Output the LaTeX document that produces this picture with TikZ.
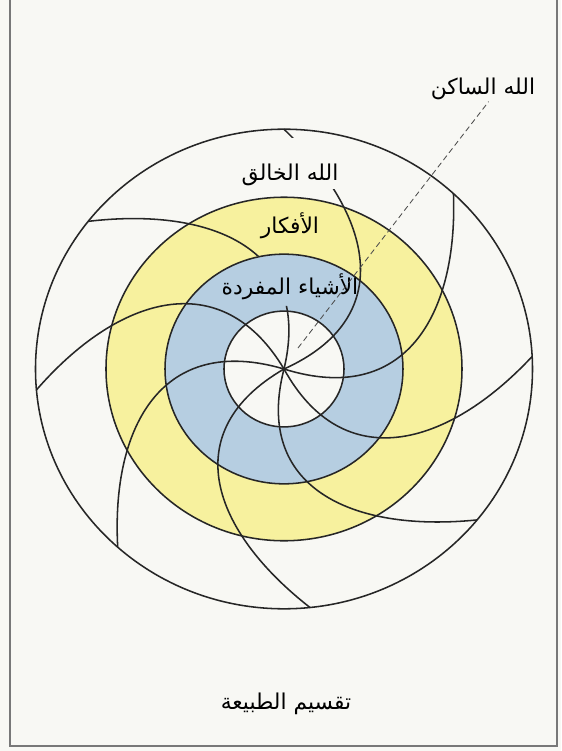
\documentclass[tikz,border=0pt]{standalone}
\usepackage{fontspec}
\newfontfamily\arabicfont[Script=Arabic]{DejaVu Sans}
\TeXXeTstate=1
\usepackage{tikz}
\usetikzlibrary{calc}
\definecolor{paper}{RGB}{248,248,244}
\definecolor{ideas}{RGB}{247,241,158}
\definecolor{things}{RGB}{182,206,225}
\definecolor{framegray}{RGB}{120,120,120}

\begin{document}
\begin{tikzpicture}[x=0.025cm,y=0.025cm,
  lbl/.style={font=\arabicfont\fontsize{15.5}{18}\selectfont,inner sep=1pt},
  ring/.style={draw=black!85,line width=1.1pt},
  arm/.style={draw=black!85,line width=1.1pt},
  pointer/.style={draw=black!70,line width=0.6pt,dash pattern=on 4pt off 2.5pt},
  frm/.style={draw=framegray,line width=0.8pt}]
  \useasboundingbox (-284,-382) rectangle (277,369);
  % page and frame
  \fill[paper] (-284,-382) rectangle (277,369);
  \draw[frm] (-274,369) -- (-274,-377) -- (273,-377) -- (273,369);
  % the four circles of nature
  \begin{scope}[yscale=0.965]
    \fill[ideas] (0,0) circle (178);
    \fill[things] (0,0) circle (119);
    \fill[paper] (0,0) circle (60);
    \foreach \r in {60,119,178,248.5} \draw[ring] (0,0) circle (\r);
    % spiral arms, cut where two labels sit
    \begin{scope}
      \clip (-300,-420) rectangle (300,420)
            (56,186.5) rectangle (-44,239.4)
            (21,65.3) rectangle (-34,117.1);
      \foreach \a in {90,47,3,-39,-84,-132,-175,142}
        \draw[arm] (0,0) to[out=\a-65,in=\a-135,looseness=1.3] (\a:248.5);
    \end{scope}
  \end{scope}
  % labels
  \node[lbl] (sakin) at (199,280) {\beginR الله الساكن\endR};
  \node[lbl] (khaliq) at (6,194) {\beginR الله الخالق\endR};
  \node[lbl] (afkar) at (6,143) {\beginR الأفكار\endR};
  \node[lbl] (mufrada) at (6,82) {\beginR الأشياء المفردة\endR};
  \node[lbl] (title) at (2,-335) {\beginR تقسيم الطبيعة\endR};
  \coordinate (rest) at (14,21);
  \draw[pointer] (rest) -- ([xshift=4pt]sakin.south);
\end{tikzpicture}
\end{document}
